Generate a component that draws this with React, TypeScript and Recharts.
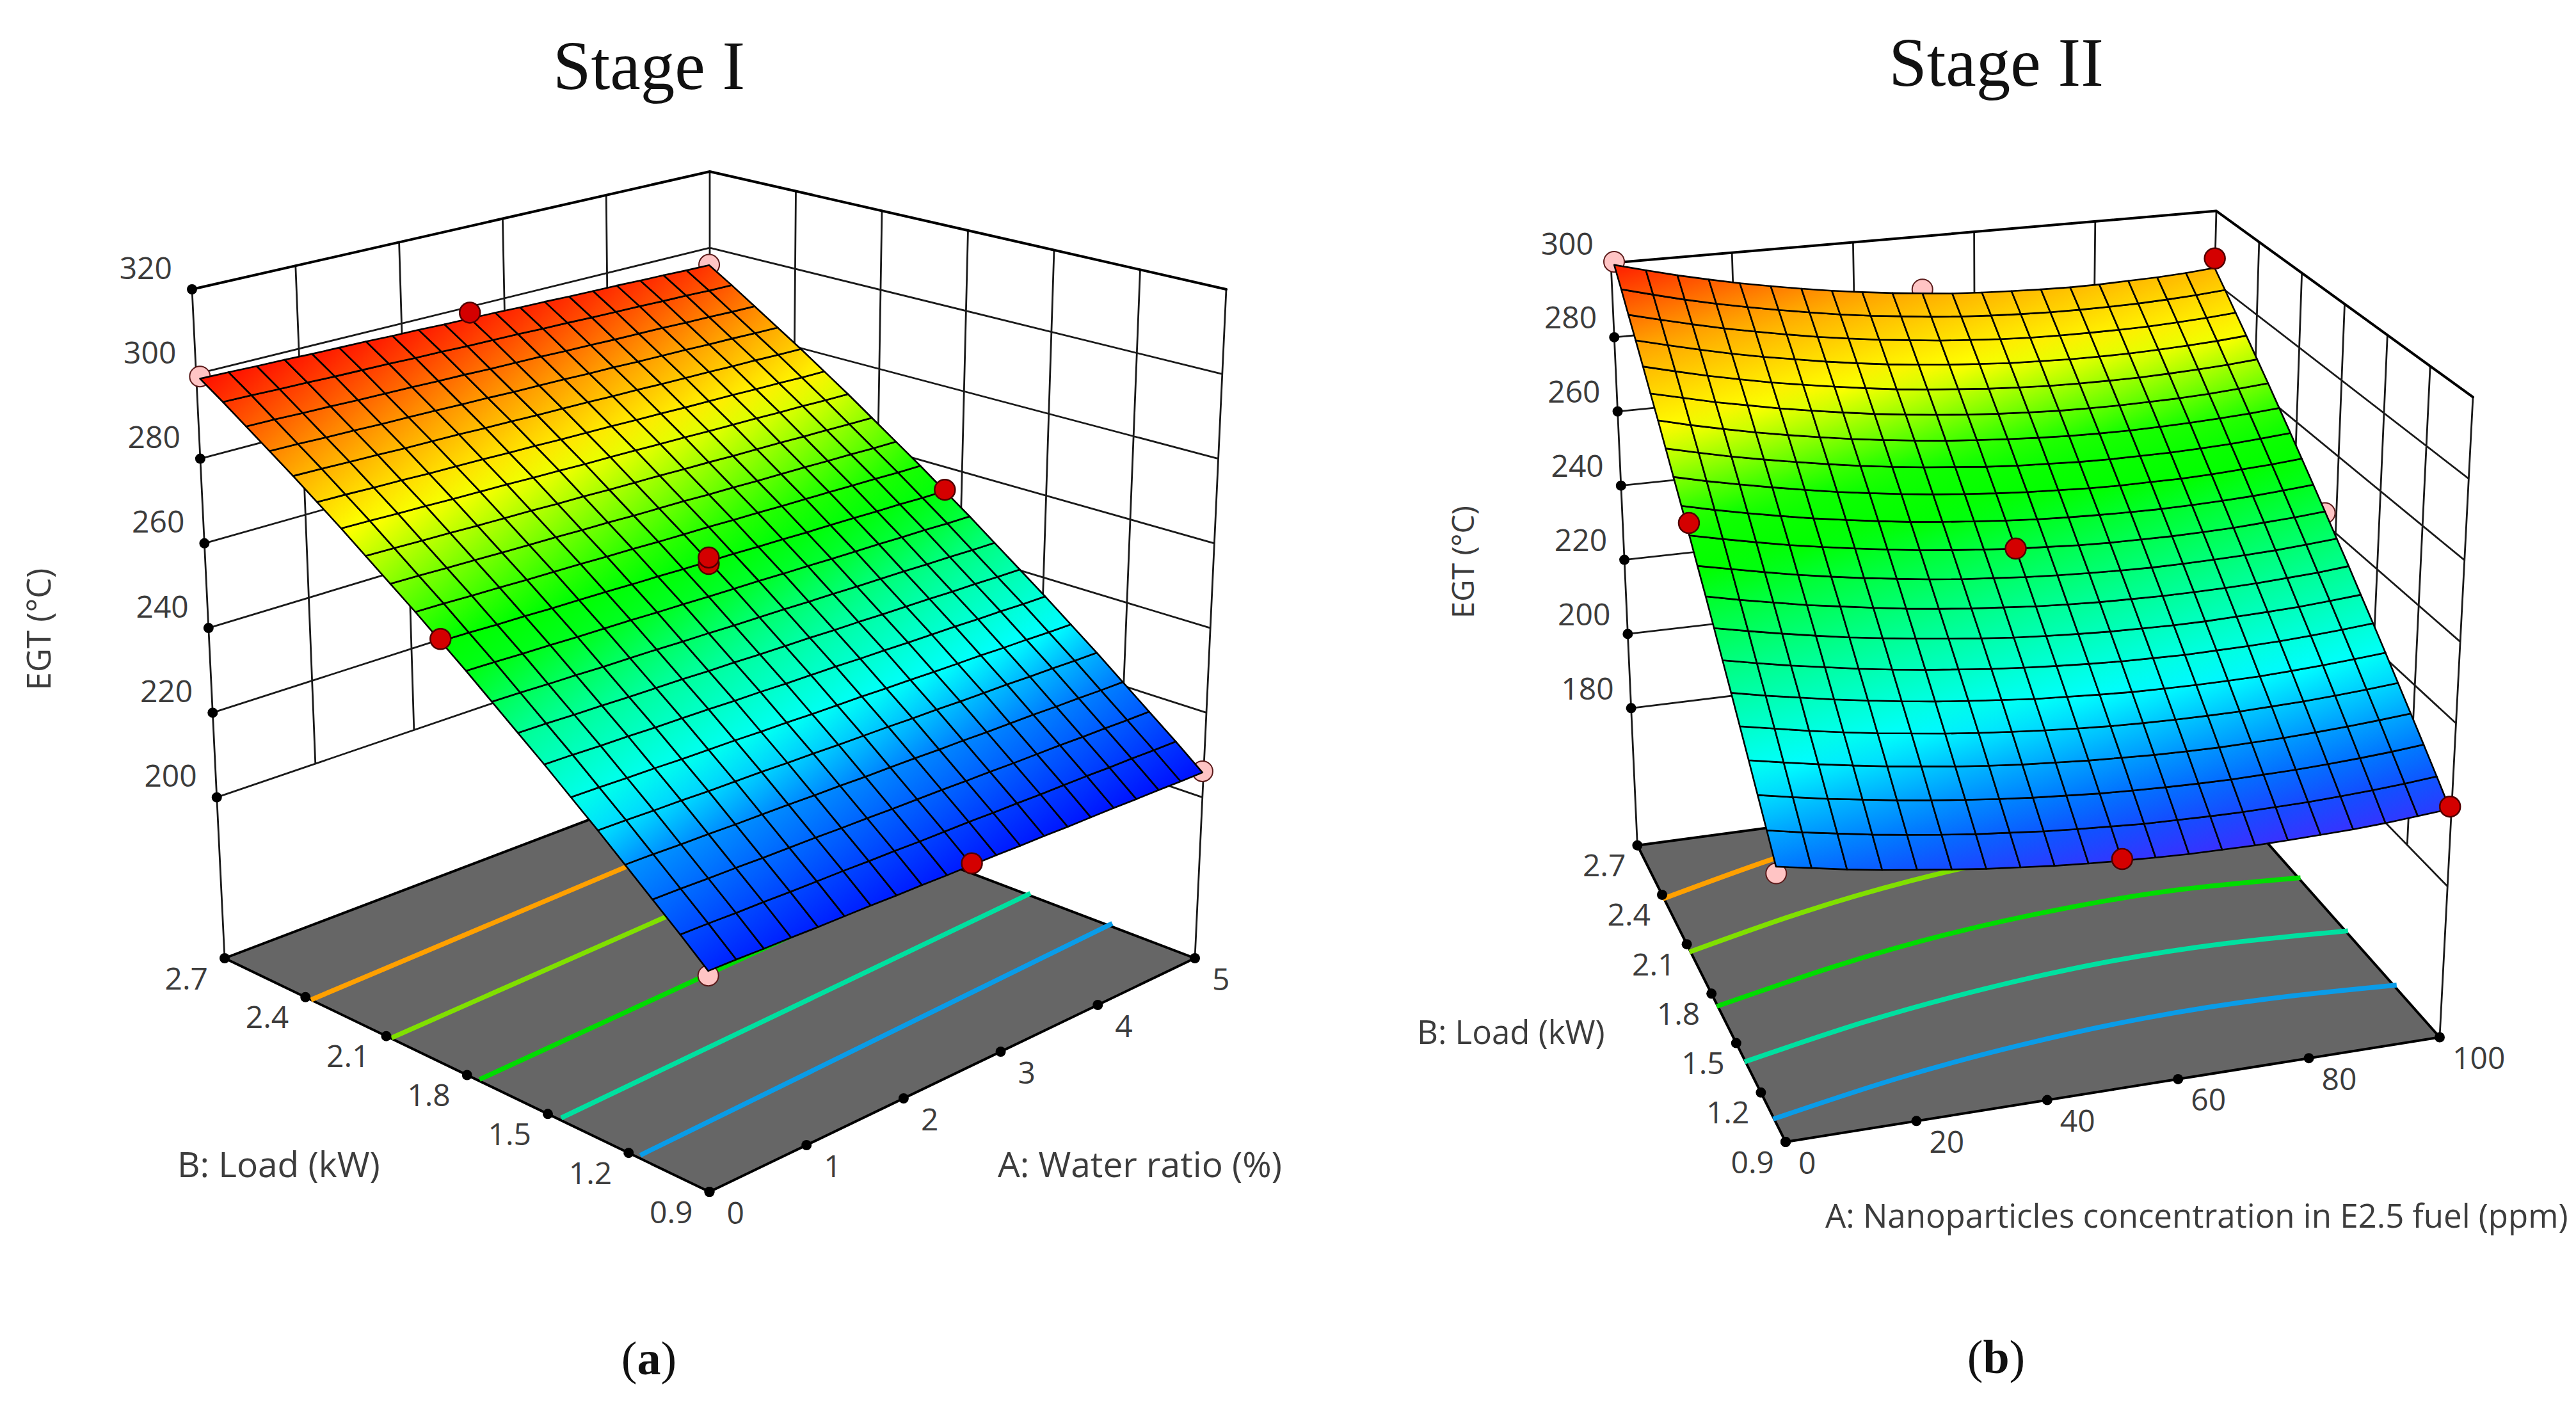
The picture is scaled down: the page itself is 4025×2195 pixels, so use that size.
import { Scatter, ScatterChart, XAxis, YAxis } from "recharts";

const WIDTH = 4025;
const HEIGHT = 2195;
const FONT = '"Open Sans", sans-serif';
const SERIF = '"Liberation Serif", serif';

// ---- Stage I ----
const waterRatio = [0, 1, 2, 3, 4, 5];
const loadTicks = [0.9, 1.2, 1.5, 1.8, 2.1, 2.4, 2.7];
const stageOneEgtTicks = [200, 220, 240, 260, 280, 300, 320];

// EGT: one row per load step (0.9 -> 2.7 kW), one column per water step (0 -> 5 %)
const stageOneEgt = [
  [209.0, 208.9, 208.7, 208.6, 208.4, 208.3, 208.2, 208.0, 207.9, 207.7, 207.6, 207.5, 207.3, 207.2, 207.0, 206.9, 206.8, 206.6, 206.5, 206.3, 206.2],
  [214.3, 214.2, 214.0, 213.9, 213.7, 213.6, 213.5, 213.3, 213.2, 213.0, 212.9, 212.8, 212.6, 212.5, 212.3, 212.2, 212.1, 211.9, 211.8, 211.6, 211.5],
  [219.4, 219.3, 219.1, 219.0, 218.8, 218.7, 218.6, 218.4, 218.3, 218.1, 218.0, 217.9, 217.7, 217.6, 217.4, 217.3, 217.2, 217.0, 216.9, 216.7, 216.6],
  [224.5, 224.4, 224.2, 224.1, 223.9, 223.8, 223.7, 223.5, 223.4, 223.2, 223.1, 223.0, 222.8, 222.7, 222.5, 222.4, 222.3, 222.1, 222.0, 221.8, 221.7],
  [229.6, 229.5, 229.3, 229.2, 229.0, 228.9, 228.8, 228.6, 228.5, 228.3, 228.2, 228.1, 227.9, 227.8, 227.6, 227.5, 227.4, 227.2, 227.1, 226.9, 226.8],
  [234.5, 234.4, 234.2, 234.1, 233.9, 233.8, 233.7, 233.5, 233.4, 233.2, 233.1, 233.0, 232.8, 232.7, 232.5, 232.4, 232.3, 232.1, 232.0, 231.8, 231.7],
  [239.4, 239.3, 239.1, 239.0, 238.8, 238.7, 238.6, 238.4, 238.3, 238.1, 238.0, 237.9, 237.7, 237.6, 237.4, 237.3, 237.2, 237.0, 236.9, 236.7, 236.6],
  [244.1, 244.0, 243.8, 243.7, 243.5, 243.4, 243.3, 243.1, 243.0, 242.8, 242.7, 242.6, 242.4, 242.3, 242.1, 242.0, 241.9, 241.7, 241.6, 241.4, 241.3],
  [248.8, 248.7, 248.5, 248.4, 248.2, 248.1, 248.0, 247.8, 247.7, 247.5, 247.4, 247.3, 247.1, 247.0, 246.8, 246.7, 246.6, 246.4, 246.3, 246.1, 246.0],
  [253.5, 253.4, 253.2, 253.1, 252.9, 252.8, 252.7, 252.5, 252.4, 252.2, 252.1, 252.0, 251.8, 251.7, 251.5, 251.4, 251.3, 251.1, 251.0, 250.8, 250.7],
  [258.0, 257.9, 257.7, 257.6, 257.4, 257.3, 257.2, 257.0, 256.9, 256.7, 256.6, 256.5, 256.3, 256.2, 256.0, 255.9, 255.8, 255.6, 255.5, 255.3, 255.2],
  [262.5, 262.4, 262.2, 262.1, 261.9, 261.8, 261.7, 261.5, 261.4, 261.2, 261.1, 261.0, 260.8, 260.7, 260.5, 260.4, 260.3, 260.1, 260.0, 259.8, 259.7],
  [266.8, 266.7, 266.5, 266.4, 266.2, 266.1, 266.0, 265.8, 265.7, 265.5, 265.4, 265.3, 265.1, 265.0, 264.8, 264.7, 264.6, 264.4, 264.3, 264.1, 264.0],
  [271.1, 271.0, 270.8, 270.7, 270.5, 270.4, 270.3, 270.1, 270.0, 269.8, 269.7, 269.6, 269.4, 269.3, 269.1, 269.0, 268.9, 268.7, 268.6, 268.4, 268.3],
  [275.4, 275.3, 275.1, 275.0, 274.8, 274.7, 274.6, 274.4, 274.3, 274.1, 274.0, 273.9, 273.7, 273.6, 273.4, 273.3, 273.2, 273.0, 272.9, 272.7, 272.6],
  [279.5, 279.4, 279.2, 279.1, 278.9, 278.8, 278.7, 278.5, 278.4, 278.2, 278.1, 278.0, 277.8, 277.7, 277.5, 277.4, 277.3, 277.1, 277.0, 276.8, 276.7],
  [283.6, 283.5, 283.3, 283.2, 283.0, 282.9, 282.8, 282.6, 282.5, 282.3, 282.2, 282.1, 281.9, 281.8, 281.6, 281.5, 281.4, 281.2, 281.1, 280.9, 280.8],
  [287.5, 287.4, 287.2, 287.1, 286.9, 286.8, 286.7, 286.5, 286.4, 286.2, 286.1, 286.0, 285.8, 285.7, 285.5, 285.4, 285.3, 285.1, 285.0, 284.8, 284.7],
  [291.4, 291.3, 291.1, 291.0, 290.8, 290.7, 290.6, 290.4, 290.3, 290.1, 290.0, 289.9, 289.7, 289.6, 289.4, 289.3, 289.2, 289.0, 288.9, 288.7, 288.6],
  [295.3, 295.2, 295.0, 294.9, 294.7, 294.6, 294.5, 294.3, 294.2, 294.0, 293.9, 293.8, 293.6, 293.5, 293.3, 293.2, 293.1, 292.9, 292.8, 292.6, 292.5],
  [299.0, 298.9, 298.7, 298.6, 298.4, 298.3, 298.2, 298.0, 297.9, 297.7, 297.6, 297.5, 297.3, 297.2, 297.0, 296.9, 296.8, 296.6, 296.5, 296.3, 296.2],
];

// floor contours: [water, load] pairs
const stageOneContours = [
  { color: "#0a9ce8", points: [[0, 1.127], [5, 1.181]] },
  { color: "#00e0a0", points: [[0, 1.399], [5, 1.467]] },
  { color: "#00dc00", points: [[0, 1.692], [5, 1.764]] },
  { color: "#80e000", points: [[0, 2.023], [5, 2.097]] },
  { color: "#ffa000", points: [[0, 2.34], [5, 2.412]] },
];

// design points [water, load, EGT], pink ones sit under the surface
const stageOnePink = [[0, 0.9, 208], [5, 0.9, 206.5], [0, 2.7, 299.5], [5, 2.7, 296.3]];
const stageOneRed = [[2.5, 2.7, 299], [0, 1.8, 258.5], [5, 1.8, 255.5], [2.5, 0.9, 208], [2.5, 1.8, 256], [2.5, 1.8, 257.5]];

const stageOneColours = [
  [206, "#0010ff"], [224.5, "#0090ff"], [232, "#00ffff"], [245, "#00ff90"], [254, "#00ff10"], [258, "#00ff00"],
  [267, "#80ff00"], [275.5, "#ffff00"], [285.5, "#ffa000"], [293, "#ff5000"], [299, "#ff1500"],
];

// ---- Stage II ----
const nanoTicks = [0, 20, 40, 60, 80, 100];
const stageTwoEgtTicks = [180, 200, 220, 240, 260, 280, 300];

const stageTwoEgt = [
  [208.4, 206.9, 205.4, 204.1, 203.0, 201.9, 200.9, 200.1, 199.3, 198.7, 198.2, 197.8, 197.5, 197.4, 197.3, 197.4, 197.6, 197.8, 198.2, 198.8, 199.4],
  [213.4, 211.8, 210.4, 209.0, 207.8, 206.7, 205.7, 204.9, 204.1, 203.5, 203.0, 202.5, 202.3, 202.1, 202.0, 202.1, 202.2, 202.5, 202.9, 203.4, 204.1],
  [218.3, 216.7, 215.2, 213.9, 212.6, 211.5, 210.5, 209.6, 208.8, 208.2, 207.6, 207.2, 206.9, 206.7, 206.6, 206.7, 206.8, 207.1, 207.5, 208.0, 208.7],
  [223.2, 221.6, 220.1, 218.7, 217.4, 216.3, 215.2, 214.3, 213.5, 212.9, 212.3, 211.9, 211.5, 211.3, 211.2, 211.3, 211.4, 211.7, 212.1, 212.6, 213.2],
  [228.0, 226.4, 224.8, 223.4, 222.1, 221.0, 219.9, 219.0, 218.2, 217.5, 216.9, 216.4, 216.1, 215.9, 215.8, 215.8, 216.0, 216.2, 216.6, 217.1, 217.7],
  [232.8, 231.1, 229.6, 228.1, 226.8, 225.6, 224.5, 223.6, 222.8, 222.0, 221.5, 221.0, 220.6, 220.4, 220.3, 220.3, 220.4, 220.7, 221.1, 221.6, 222.2],
  [237.5, 235.8, 234.2, 232.8, 231.4, 230.2, 229.1, 228.2, 227.3, 226.6, 226.0, 225.5, 225.1, 224.9, 224.7, 224.8, 224.9, 225.1, 225.5, 226.0, 226.6],
  [242.2, 240.5, 238.9, 237.4, 236.0, 234.8, 233.7, 232.7, 231.8, 231.0, 230.4, 229.9, 229.5, 229.3, 229.1, 229.1, 229.3, 229.5, 229.8, 230.3, 230.9],
  [246.9, 245.1, 243.5, 241.9, 240.6, 239.3, 238.1, 237.1, 236.2, 235.5, 234.8, 234.3, 233.9, 233.7, 233.5, 233.5, 233.6, 233.8, 234.2, 234.6, 235.3],
  [251.4, 249.7, 248.0, 246.4, 245.0, 243.7, 242.6, 241.5, 240.6, 239.9, 239.2, 238.7, 238.3, 238.0, 237.8, 237.8, 237.9, 238.1, 238.4, 238.9, 239.5],
  [256.0, 254.2, 252.5, 250.9, 249.5, 248.2, 247.0, 245.9, 245.0, 244.2, 243.5, 243.0, 242.5, 242.2, 242.1, 242.0, 242.1, 242.3, 242.7, 243.1, 243.7],
  [260.5, 258.6, 256.9, 255.3, 253.8, 252.5, 251.3, 250.2, 249.3, 248.5, 247.8, 247.2, 246.8, 246.5, 246.3, 246.2, 246.3, 246.5, 246.8, 247.3, 247.9],
  [264.9, 263.0, 261.3, 259.7, 258.2, 256.8, 255.6, 254.5, 253.5, 252.7, 252.0, 251.4, 251.0, 250.6, 250.4, 250.4, 250.4, 250.6, 251.0, 251.4, 252.0],
  [269.3, 267.4, 265.6, 264.0, 262.5, 261.1, 259.8, 258.7, 257.7, 256.9, 256.1, 255.5, 255.1, 254.7, 254.5, 254.5, 254.5, 254.7, 255.0, 255.5, 256.1],
  [273.7, 271.7, 269.9, 268.2, 266.7, 265.3, 264.0, 262.9, 261.9, 261.0, 260.3, 259.7, 259.2, 258.8, 258.6, 258.5, 258.6, 258.8, 259.1, 259.5, 260.1],
  [277.9, 276.0, 274.1, 272.5, 270.9, 269.5, 268.2, 267.0, 266.0, 265.1, 264.3, 263.7, 263.2, 262.8, 262.6, 262.5, 262.6, 262.7, 263.0, 263.5, 264.1],
  [282.2, 280.2, 278.3, 276.6, 275.0, 273.6, 272.3, 271.1, 270.0, 269.1, 268.4, 267.7, 267.2, 266.8, 266.6, 266.5, 266.5, 266.7, 267.0, 267.4, 268.0],
  [286.4, 284.4, 282.5, 280.7, 279.1, 277.7, 276.3, 275.1, 274.0, 273.1, 272.3, 271.7, 271.1, 270.8, 270.5, 270.4, 270.4, 270.6, 270.9, 271.3, 271.9],
  [290.5, 288.5, 286.6, 284.8, 283.2, 281.7, 280.3, 279.1, 278.0, 277.1, 276.2, 275.6, 275.0, 274.6, 274.4, 274.3, 274.3, 274.4, 274.7, 275.1, 275.7],
  [294.7, 292.6, 290.6, 288.8, 287.2, 285.7, 284.3, 283.0, 281.9, 281.0, 280.1, 279.4, 278.9, 278.5, 278.2, 278.1, 278.1, 278.2, 278.5, 278.9, 279.5],
  [298.7, 296.6, 294.6, 292.8, 291.1, 289.6, 288.2, 286.9, 285.8, 284.8, 284.0, 283.2, 282.7, 282.3, 282.0, 281.8, 281.8, 282.0, 282.2, 282.6, 283.2],
];

const stageTwoContours = [
  { color: "#0a9ce8", points: [[0, 1.0], [20, 1.106], [40, 1.179], [60, 1.219], [80, 1.22], [100, 1.186]] },
  { color: "#00e0a0", points: [[0, 1.316], [20, 1.432], [40, 1.514], [60, 1.561], [80, 1.566], [100, 1.532]] },
  { color: "#00dc00", points: [[0, 1.642], [20, 1.769], [40, 1.863], [60, 1.915], [80, 1.928], [100, 1.892]] },
  { color: "#80e000", points: [[0, 1.982], [20, 2.124], [40, 2.228], [60, 2.29], [80, 2.306], [100, 2.272]] },
  { color: "#ffa000", points: [[0, 2.336], [20, 2.493], [40, 2.612], [60, 2.684]] },
];

const stageTwoPink = [[0, 0.9, 206.8], [50, 2.7, 285], [100, 1.8, 243.3], [0, 2.7, 299.5]];
const stageTwoRed = [[100, 2.7, 285.7], [0, 1.8, 259], [50, 1.8, 243.5], [100, 0.9, 200], [50, 0.9, 198.6]];

const stageTwoColours = [
  [197, "#3a30ff"], [203, "#1050ff"], [208, "#0078ff"], [214, "#00b0ff"], [221, "#00ffff"], [235, "#00ff90"],
  [246, "#00ff30"], [250, "#00ff00"], [258, "#10ff00"], [272, "#ffff00"], [285, "#ffa800"], [299, "#ff1a00"],
];

// the open box on the page: corners of floor and top, [a, b, floor x, floor y, top x, top y]
const stageOneBox = [
  [0, 0, 1108.5, 1862, 1108.5, 1862], [1, 0, 1867, 1497, 1916, 452], [0, 1, 351, 1497, 300, 452], [1, 1, 1109, 1209, 1109, 268],
];
const stageTwoBox = [
  [0, 0, 2790, 1784, 2790, 1784], [1, 0, 3812, 1620.5, 3864, 620.4], [0, 1, 2558.4, 1320.7, 2517, 411], [1, 1, 3441, 1202, 3463, 329.6],
];

// reference spots the view of each surface is fitted to: [a, b, egt, page x, page y]
const stageOneView = [
  [0, 0, 162, 1108.5, 1862], [1, 0, 162, 1867, 1497], [0, 1, 162, 351, 1497], [1, 1, 162, 1109, 1209],
  [0, 0, 209, 1105.6, 1509], [1, 0, 206.2, 1877, 1203], [0, 1, 299, 311, 591], [1, 1, 296.2, 1109, 411],
  [0, 0.5, 258, 688, 1003], [1, 0.5, 255.2, 1479, 770], [0.5, 0.5, 256.6, 1109, 880], [0.5, 1, 297.6, 732.5, 502], [0.5, 0, 207.6, 1520, 1346],
];
const stageTwoView = [
  [0, 0, 143, 2790, 1784], [1, 0, 143, 3812, 1620.5], [0, 1, 143, 2558.4, 1320.7], [1, 1, 143, 3441, 1202],
  [0, 0, 208.4, 2771, 1346], [1, 0, 199.4, 3821, 1261], [0, 1, 298.7, 2519, 416], [1, 1, 283.2, 3467, 421],
  [0, 0.5, 256, 2640, 843], [1, 0.5, 243.7, 3633, 797], [0.5, 0.5, 243.5, 3151, 856], [0.5, 1, 284, 3001.5, 456.6], [0.5, 0, 198.2, 3320.5, 1340],
];

// least squares for the 3x4 projection (last element fixed to 1)
function fitView(anchors: number[][]) {
  const n = 11;
  const m = Array.from({ length: n }, () => new Array(n + 1).fill(0));
  const add = (row: number[], rhs: number) => {
    for (let r = 0; r < n; r++) {
      for (let c = 0; c < n; c++) m[r][c] += row[r] * row[c];
      m[r][n] += row[r] * rhs;
    }
  };
  anchors.forEach(([a, b, z, px, py]) => {
    const h = z / 100;
    const u = px / 1000;
    const v = py / 1000;
    add([a, b, h, 1, 0, 0, 0, 0, -u * a, -u * b, -u * h], u);
    add([0, 0, 0, 0, a, b, h, 1, -v * a, -v * b, -v * h], v);
  });
  for (let c = 0; c < n; c++) {
    let best = c;
    for (let r = c + 1; r < n; r++) if (Math.abs(m[r][c]) > Math.abs(m[best][c])) best = r;
    [m[c], m[best]] = [m[best], m[c]];
    for (let r = 0; r < n; r++) {
      if (r === c) continue;
      const f = m[r][c] / m[c][c];
      for (let k = c; k <= n; k++) m[r][k] -= f * m[c][k];
    }
  }
  const p = m.map((row, i) => row[n] / row[i]);
  return (a: number, b: number, z: number) => {
    const h = z / 100;
    const w = p[8] * a + p[9] * b + p[10] * h + 1;
    return {
      x: (1000 * (p[0] * a + p[1] * b + p[2] * h + p[3])) / w,
      y: (1000 * (p[4] * a + p[5] * b + p[6] * h + p[7])) / w,
    };
  };
}

const hexToRgb = (h: string) => [1, 3, 5].map((i) => parseInt(h.slice(i, i + 2), 16));

function colourFor(stops: any[], z: number) {
  if (z <= stops[0][0]) return stops[0][1];
  for (let i = 1; i < stops.length; i++) {
    if (z <= stops[i][0]) {
      const t = (z - stops[i - 1][0]) / (stops[i][0] - stops[i - 1][0]);
      const c0 = hexToRgb(stops[i - 1][1]);
      const c1 = hexToRgb(stops[i][1]);
      return `rgb(${c0.map((v, k) => Math.round(v + (c1[k] - v) * t)).join(",")})`;
    }
  }
  return stops[stops.length - 1][1];
}

const lerp = (p: any, q: any, t: number) => ({ x: p.x + (q.x - p.x) * t, y: p.y + (q.y - p.y) * t });
const noDot = () => <g />;

// pairs of points -> separate strokes
const strokes = (color: string, width: number) => (props: any) => {
  const pts = props.points;
  let d = "";
  for (let i = 0; i + 1 < pts.length; i += 2) d += `M${pts[i].x},${pts[i].y}L${pts[i + 1].x},${pts[i + 1].y}`;
  return <path d={d} fill="none" stroke={color} strokeWidth={width} strokeLinecap="round" />;
};

const floorShape = (props: any) => (
  <polygon points={props.points.map((p: any) => `${p.x},${p.y}`).join(" ")} fill="#666666" stroke="#000" strokeWidth={4} strokeLinejoin="round" />
);

const meshLayer = (id: string, table: number[][], stops: any[]) => (props: any) => {
  const cols = table[0].length;
  const at = (j: number, i: number) => props.points[j * cols + i];
  const defs: any[] = [];
  const cells: any[] = [];
  for (let j = 0; j + 1 < table.length; j++) {
    for (let i = 0; i + 1 < cols; i++) {
      const a = at(j, i);
      const b = at(j, i + 1);
      const c = at(j + 1, i + 1);
      const d = at(j + 1, i);
      const key = `${id}-${j}-${i}`;
      defs.push(
        <linearGradient key={key} id={key} gradientUnits="userSpaceOnUse"
          x1={(a.x + b.x) / 2} y1={(a.y + b.y) / 2} x2={(c.x + d.x) / 2} y2={(c.y + d.y) / 2}>
          <stop offset="0" stopColor={colourFor(stops, (table[j][i] + table[j][i + 1]) / 2)} />
          <stop offset="1" stopColor={colourFor(stops, (table[j + 1][i] + table[j + 1][i + 1]) / 2)} />
        </linearGradient>
      );
      cells.push(
        <polygon key={key} points={`${a.x},${a.y} ${b.x},${b.y} ${c.x},${c.y} ${d.x},${d.y}`}
          fill={`url(#${key})`} stroke="#000" strokeWidth={2.6} strokeLinejoin="round" />
      );
    }
  }
  return (
    <g>
      <defs>{defs}</defs>
      {cells}
    </g>
  );
};

const textShape = (size: number, anchor: string, family = FONT, fill = "#3c3c3c") => (p: any) => (
  <text x={p.cx + (p.payload.dx || 0)} y={p.cy + (p.payload.dy || 0)} fontFamily={family} fontSize={size} fill={fill}
    textAnchor={anchor} dominantBaseline="central"
    transform={p.payload.rotate ? `rotate(${p.payload.rotate} ${p.cx} ${p.cy})` : undefined}>
    {p.payload.text}
    {p.payload.bold ? <tspan fontWeight="bold">{p.payload.bold}</tspan> : null}
    {p.payload.tail || null}
  </text>
);

const dotShape = (r: number, fill: string, stroke: string, sw: number) => (p: any) => (
  <circle cx={p.cx} cy={p.cy} r={r} fill={fill} stroke={stroke} strokeWidth={sw} />
);

function panel(cfg: any) {
  const { id, aTicks, bTicks, zTicks, table, box, view, zFloor, zTop, stops, contours, pink, red } = cfg;
  const project = fitView(view);
  const aMin = aTicks[0];
  const aSpan = aTicks[aTicks.length - 1] - aMin;
  const bMin = bTicks[0];
  const bSpan = bTicks[bTicks.length - 1] - bMin;
  const place = (a: number, b: number, z: number) => project((a - aMin) / aSpan, (b - bMin) / bSpan, z);

  // the edges of the box carry evenly spaced ticks
  const corner = (a: number, b: number, z: number) => {
    const c = box.find((k: number[]) => k[0] === a && k[1] === b);
    return lerp({ x: c[2], y: c[3] }, { x: c[4], y: c[5] }, (z - zFloor) / (zTop - zFloor));
  };
  const zLow = zTicks[0];

  const wall: any[] = [];
  zTicks.slice(0, -1).forEach((z: number) => {
    wall.push(corner(0, 1, z), corner(1, 1, z), corner(1, 1, z), corner(1, 0, z));
  });
  aTicks.slice(1, -1).forEach((v: number) => {
    const t = (v - aMin) / aSpan;
    wall.push(lerp(corner(0, 1, zTop), corner(1, 1, zTop), t), lerp(corner(0, 1, zLow), corner(1, 1, zLow), t));
  });
  bTicks.slice(1, -1).forEach((v: number) => {
    const t = (v - bMin) / bSpan;
    wall.push(lerp(corner(1, 0, zTop), corner(1, 1, zTop), t), lerp(corner(1, 0, zLow), corner(1, 1, zLow), t));
  });
  wall.push(corner(0, 1, zFloor), corner(0, 1, zTop), corner(1, 0, zFloor), corner(1, 0, zTop), corner(1, 1, zLow), corner(1, 1, zTop));

  const topEdge = [corner(0, 1, zTop), corner(1, 1, zTop), corner(1, 1, zTop), corner(1, 0, zTop)];
  const floor = [corner(0, 0, zFloor), corner(1, 0, zFloor), corner(1, 1, zFloor), corner(0, 1, zFloor)];

  const aTickMarks = aTicks.map((v: number) => ({
    ...lerp(corner(0, 0, zFloor), corner(1, 0, zFloor), (v - aMin) / aSpan),
    text: String(v),
    dx: cfg.aLabel[0],
    dy: cfg.aLabel[1],
  }));
  const bTickMarks = bTicks.map((v: number) => ({
    ...lerp(corner(0, 0, zFloor), corner(0, 1, zFloor), (v - bMin) / bSpan),
    text: v.toFixed(1),
    dx: cfg.bLabel[0],
    dy: cfg.bLabel[1],
  }));
  const zTickMarks = zTicks.map((z: number) => ({
    ...corner(0, 1, z),
    text: String(z),
    dx: cfg.zLabel[0],
    dy: cfg.zLabel[1],
  }));

  const vertices: any[] = [];
  table.forEach((row: number[], j: number) =>
    row.forEach((z, i) => vertices.push(project(i / (row.length - 1), j / (table.length - 1), z)))
  );

  return (
    <>
      <Scatter data={wall} shape={noDot} line={strokes("#1a1a1a", 2.8)} isAnimationActive={false} />
      <Scatter data={topEdge} shape={noDot} line={strokes("#000", 4)} isAnimationActive={false} />
      <Scatter data={floor} shape={noDot} line={floorShape} isAnimationActive={false} />
      {contours.map((c: any, k: number) => (
        <Scatter key={`${id}-c${k}`} data={c.points.map(([a, b]: number[]) => place(a, b, zFloor))} shape={noDot}
          line={{ stroke: c.color, strokeWidth: 7.5 }} lineJointType="natural" isAnimationActive={false} />
      ))}
      <Scatter data={[...aTickMarks, ...bTickMarks, ...zTickMarks]} shape={dotShape(8, "#000", "none", 0)} isAnimationActive={false} />
      <Scatter data={pink.map(([a, b, z]: number[]) => place(a, b, z))} shape={dotShape(16, "#ffc4c4", "#5a1a1a", 2)} isAnimationActive={false} />
      <Scatter data={vertices} shape={noDot} line={meshLayer(id, table, stops)} isAnimationActive={false} />
      <Scatter data={red.map(([a, b, z]: number[]) => place(a, b, z))} shape={dotShape(16, "#d40000", "#500000", 2.5)} isAnimationActive={false} />
      <Scatter data={zTickMarks} shape={textShape(48, "end")} isAnimationActive={false} />
      <Scatter data={bTickMarks} shape={textShape(48, "end")} isAnimationActive={false} />
      <Scatter data={aTickMarks} shape={textShape(48, "start")} isAnimationActive={false} />
    </>
  );
}

const stageOne = panel({
  id: "one", aTicks: waterRatio, bTicks: loadTicks, zTicks: stageOneEgtTicks, table: stageOneEgt, box: stageOneBox, view: stageOneView,
  zFloor: 162, zTop: 320, stops: stageOneColours, contours: stageOneContours, pink: stageOnePink, red: stageOneRed,
  aLabel: [27, 31], bLabel: [-26, 30], zLabel: [-31, -35],
});

const stageTwo = panel({
  id: "two", aTicks: nanoTicks, bTicks: loadTicks, zTicks: stageTwoEgtTicks, table: stageTwoEgt, box: stageTwoBox, view: stageTwoView,
  zFloor: 143, zTop: 300, stops: stageTwoColours, contours: stageTwoContours, pink: stageTwoPink, red: stageTwoRed,
  aLabel: [20, 31], bLabel: [-18, 30], zLabel: [-27, -32],
});

const titles = [{ x: 1014, y: 103, text: "Stage I" }, { x: 3119, y: 98, text: "Stage II" }];
const captions = [
  { x: 1014, y: 2122, text: "(", bold: "a", tail: ")" },
  { x: 3119, y: 2120, text: "(", bold: "b", tail: ")" },
];
const stageOneAxisTitles = [
  { x: 277, y: 1817, text: "B: Load (kW)" },
  { x: 1559, y: 1817, text: "A: Water ratio (%)" },
];
const stageTwoAxisTitles = [
  { x: 2214, y: 1611, text: "B: Load (kW)" },
  { x: 2852, y: 1898, text: "A: Nanoparticles concentration in E2.5 fuel (ppm)" },
];

export default function App() {
  return (
    <div style={{ position: "absolute", left: 0, top: 0, width: WIDTH, height: HEIGHT, background: "#fff" }}>
      <ScatterChart width={WIDTH} height={HEIGHT} margin={{ top: 0, right: 0, bottom: 0, left: 0 }}>
        <XAxis type="number" dataKey="x" domain={[0, WIDTH]} hide />
        <YAxis type="number" dataKey="y" domain={[0, HEIGHT]} reversed hide />
        {stageOne}
        {stageTwo}
        <Scatter data={titles} shape={textShape(107, "middle", SERIF, "#111")} isAnimationActive={false} />
        <Scatter data={captions} shape={textShape(74, "middle", SERIF, "#111")} isAnimationActive={false} />
        <Scatter data={stageOneAxisTitles} shape={textShape(55, "start")} isAnimationActive={false} />
        <Scatter data={stageTwoAxisTitles} shape={textShape(51, "start")} isAnimationActive={false} />
        <Scatter data={[{ x: 59, y: 983, text: "EGT (°C)", rotate: -90 }]} shape={textShape(51, "middle")} isAnimationActive={false} />
        <Scatter data={[{ x: 2285, y: 878, text: "EGT (°C)", rotate: -90 }]} shape={textShape(47, "middle")} isAnimationActive={false} />
      </ScatterChart>
    </div>
  );
}
